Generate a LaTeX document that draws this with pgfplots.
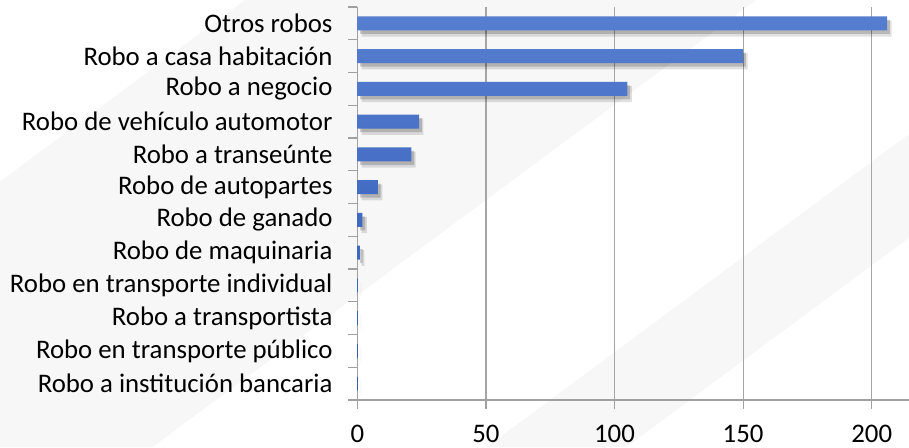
\documentclass[border=0pt]{standalone}
\usepackage{pgfplots}
\pgfplotsset{compat=1.18}
\usepackage{fontspec}
\setmainfont{Carlito}
\definecolor{gridc}{RGB}{165,165,165}
\definecolor{axc}{RGB}{160,160,160}
\definecolor{barTop}{RGB}{86,126,208}
\definecolor{barBot}{RGB}{46,90,182}
\definecolor{bandc}{RGB}{247,247,247}
\begin{document}
\begin{tikzpicture}
\useasboundingbox (0,0) rectangle (454.5pt,-223.5pt);
\begin{scope}[x=0.5pt,y=-0.5pt]
\clip (0,0) rectangle (909,447);
\fill[bandc] (245,0) -- (756,0) -- (152.55,447) -- (-358.45,447) -- cycle;
\fill[bandc] (1090,0) -- (1230,0) -- (626.55,447) -- (486.55,447) -- cycle;
\end{scope}
\begin{axis}[
  at={(178.65pt,-200pt)}, anchor=south west,
  scale only axis, width=275.85pt, height=196.5pt,
  xmin=0, xmax=214.5, ymin=-0.5, ymax=11.5,
  axis x line*=bottom, axis y line*=left,
  axis line style={axc, line width=0.6pt},
  xtick={0,50,100,150,200},
  xmajorgrids, major grid style={gridc, line width=0.6pt},
  ytick={0,...,11},
  yticklabels={Robo a institución bancaria, Robo en transporte público, Robo a transportista, Robo en transporte individual, Robo de maquinaria, Robo de ganado, Robo de autopartes, Robo a transeúnte, Robo de vehículo automotor, Robo a negocio, Robo a casa habitación, Otros robos},
  minor ytick={-0.5,0.5,...,11.5},
  tick align=outside,
  major tick length=4.5pt, minor tick length=4.5pt,
  major y tick style={draw=none},
  minor y tick style={axc, line width=0.6pt},
  major x tick style={axc, line width=0.6pt},
  tick label style={font=\fontsize{13.4}{16}\selectfont, text=black},
  yticklabel style={anchor=east, inner sep=0pt, xshift=-7.7pt},
  xticklabel style={anchor=north, inner sep=0pt, yshift=-7.6pt},
  /pgf/number format/assume math mode=true,
  bar width=7pt,
]
\addplot[xbar, bar shift=0pt, draw=none, fill=black, opacity=0.12, xshift=2.2pt, yshift=-2.6pt, bar width=8pt] coordinates {
(206,11) (150,10) (105,9) (24,8) (21,7) (8,6) (2,5) (1,4) (0,3) (0,2) (0,1) (0,0)};
\addplot[xbar, bar shift=0pt, draw=none, fill=black, opacity=0.18, xshift=1.4pt, yshift=-1.8pt] coordinates {
(206,11) (150,10) (105,9) (24,8) (21,7) (8,6) (2,5) (1,4) (0,3) (0,2) (0,1) (0,0)};
\addplot[xbar, bar shift=0pt, draw=none, top color=barTop, bottom color=barBot] coordinates {
(206,11) (150,10) (105,9) (24,8) (21,7) (8,6) (2,5) (1,4) (0,3) (0,2) (0,1) (0,0)};
\end{axis}
\end{tikzpicture}
\end{document}
